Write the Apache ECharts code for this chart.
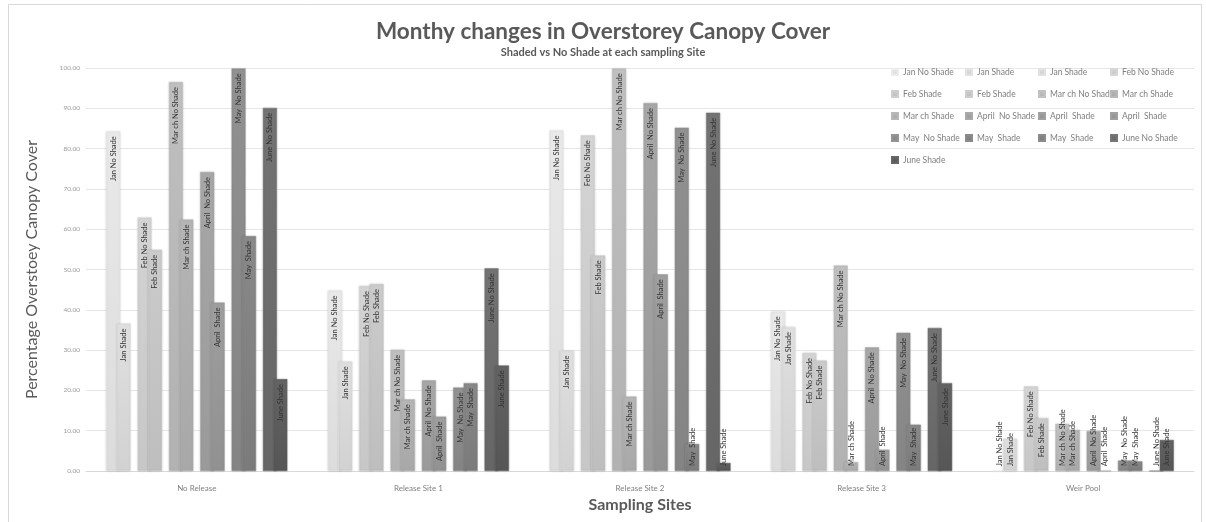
<!DOCTYPE html>
<html><head><meta charset="utf-8">
<script src="https://cdn.jsdelivr.net/npm/echarts@6/dist/echarts.min.js"></script>
<style>html,body{margin:0;padding:0;background:#fff}#chart{width:1206px;height:522px}</style>
</head><body><div id="chart"></div>
<script>
// ---- data ----
const categories = ['No Release', 'Release Site 1', 'Release Site 2', 'Release Site 3', 'Weir Pool'];
const seriesNames = ['Jan No Shade', 'Jan Shade', 'Jan Shade', 'Feb No Shade', 'Feb Shade', 'Feb Shade',
  'Mar ch No Shade', 'Mar ch Shade', 'Mar ch Shade', 'April  No Shade', 'April  Shade', 'April  Shade',
  'May  No Shade', 'May  Shade', 'May  Shade', 'June No Shade', 'June Shade'];
const yTicks = [0, 100, 10];
const janNoShade  = [84.3, 44.8, 84.5, 39.6, 0];
const janShade    = [36.6, 27.2, 29.9, 35.7, 8.0];
const febNoShade  = [62.9, 45.9, 83.3, 29.3, 21.0];
const febShade    = [54.9, 46.4, 53.5, 27.4, 13.1];
const marNoShade  = [96.5, 30.1, 99.9, 51.0, 11.7];
const marShade    = [62.4, 17.8, 18.5, 2.2, 10.2];
const aprNoShade  = [74.2, 22.5, 91.3, 30.7, 9.9];
const aprShade    = [41.8, 13.5, 48.8, 5.3, 0];
const mayNoShade  = [99.9, 20.7, 85.2, 34.3, 2.6];
const mayShade    = [58.3, 21.8, 6.7, 11.5, 2.4];
const juneNoShade = [90.1, 50.3, 88.9, 35.5, 0];
const juneShade   = [22.8, 26.2, 2.0, 21.8, 7.7];
const emptySeries = [];
const seriesValues = [janNoShade, janShade, emptySeries, febNoShade, febShade, emptySeries,
  marNoShade, marShade, emptySeries, aprNoShade, aprShade, emptySeries,
  mayNoShade, mayShade, emptySeries, juneNoShade, juneShade];

// ---- style ----
const colors = ['#e4e4e4', '#dadada', '#d5d5d5', '#cfcfcf', '#c6c6c6', '#c1c1c1',
  '#bababa', '#b0b0b0', '#ababab', '#a2a2a2', '#999999', '#949494',
  '#8c8c8c', '#838383', '#7e7e7e', '#6e6e6e', '#5e5e5e'];
const GRID = {left: 86, right: 12, top: 68, bottom: 51};
const LABEL_FONT = 7.5;
const FONT = 'Lato, "Open Sans", sans-serif';

function shade(hex, d) {
  const v = Math.max(0, Math.min(255, parseInt(hex.slice(1, 3), 16) + d));
  const h = v.toString(16).padStart(2, '0');
  return '#' + h + h + h;
}

const ctx = document.createElement('canvas').getContext('2d');
ctx.font = LABEL_FONT + 'px Lato';
const plotH = 522 - GRID.top - GRID.bottom;

function itemLabel(name, v) {
  const len = ctx.measureText(name).width;
  const h = v / yTicks[1] * plotH;
  return h >= len + 10
    ? {position: 'insideTop', align: 'right'}
    : {position: 'insideBottom', align: 'left'};
}

const series = seriesNames.map((name, i) => ({
  type: 'bar',
  name: name,
  barWidth: 14,
  barGap: '-25.4%',
  itemStyle: {
    color: {type: 'linear', x: 0, y: 0, x2: 0, y2: 1, colorStops: [
      {offset: 0, color: shade(colors[i], 5)}, {offset: 1, color: shade(colors[i], -8)}]},
    borderColor: shade(colors[i], 8),
    borderWidth: 0.5,
    shadowBlur: 2,
    shadowColor: 'rgba(0,0,0,0.15)'
  },
  label: {
    show: true, rotate: 90, verticalAlign: 'middle', distance: 5,
    fontSize: LABEL_FONT, color: '#333333', fontFamily: FONT,
    formatter: '{a}'
  },
  data: seriesValues[i].map(v => ({value: v, label: itemLabel(name, v)}))
}));

const legendLefts = [891, 965, 1038, 1110];
const legends = legendLefts.map((left, c) => ({
  orient: 'vertical', left: left, top: 66, padding: 0,
  itemGap: 10, itemWidth: 6, itemHeight: 6, icon: 'rect',
  textStyle: {fontSize: 8.5, color: '#7f7f7f', fontFamily: FONT, lineHeight: 12},
  data: seriesNames.filter((n, i) => i % 4 === c)
}));

const chart = echarts.init(document.getElementById('chart'));
chart.setOption({
  animation: false,
  backgroundColor: '#ffffff',
  color: colors,
  title: {
    text: 'Monthy changes in Overstorey Canopy Cover',
    subtext: 'Shaded vs No Shade at each sampling Site',
    left: 'center', top: 15, itemGap: 4,
    textStyle: {fontSize: 22.5, fontWeight: 'bold', color: '#595959', fontFamily: FONT},
    subtextStyle: {fontSize: 11, fontWeight: 'bold', color: '#595959', fontFamily: FONT}
  },
  legend: legends,
  grid: GRID,
  xAxis: {
    type: 'category', data: categories,
    axisTick: {show: false},
    axisLine: {lineStyle: {color: '#d9d9d9'}},
    axisLabel: {fontSize: 8, color: '#808080', margin: 13, fontFamily: FONT},
    name: 'Sampling Sites', nameLocation: 'middle', nameGap: 20,
    nameTextStyle: {fontSize: 16, fontWeight: 'bold', color: '#595959', fontFamily: FONT}
  },
  yAxis: {
    type: 'value', min: yTicks[0], max: yTicks[1], interval: yTicks[2],
    axisLabel: {formatter: v => v.toFixed(2), fontSize: 6.5, color: '#9a9a9a', margin: 6, fontFamily: FONT},
    splitLine: {lineStyle: {color: '#e6e6e6'}},
    axisLine: {show: false}, axisTick: {show: false},
    name: 'Percentage Overstoey Canopy Cover', nameLocation: 'middle', nameGap: 46,
    nameTextStyle: {fontSize: 16, color: '#595959', fontFamily: FONT}
  },
  graphic: [{
    type: 'rect', silent: true, z: -10,
    shape: {x: 8.5, y: 4.5, width: 1193, height: 530},
    style: {fill: 'none', stroke: '#d9d9d9', lineWidth: 1}
  }],
  series: series
});
</script></body></html>
